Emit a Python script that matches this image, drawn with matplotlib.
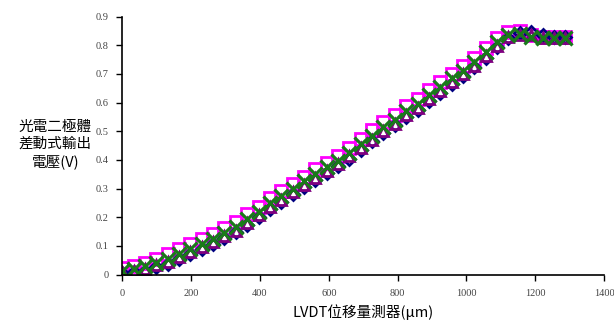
import numpy as np
import matplotlib
matplotlib.use('Agg')
import matplotlib.pyplot as plt

plt.rcParams['font.family'] = 'serif'
plt.rcParams['font.serif'] = ['Liberation Serif', 'DejaVu Serif']

# displacement (um) and output voltage (V)
x = [0, 33, 66, 99, 132, 165, 198, 231, 264, 297, 330, 363, 396, 429, 462,
     495, 528, 561, 594, 627, 660, 693, 726, 759, 792, 825, 858, 891, 924,
     957, 990, 1023, 1056, 1089, 1122, 1155, 1188, 1221, 1254, 1287]

y_x = [0.012, 0.020, 0.030, 0.042, 0.055, 0.072, 0.090, 0.107, 0.124, 0.145,
       0.165, 0.195, 0.220, 0.250, 0.275, 0.300, 0.325, 0.350, 0.375, 0.398,
       0.425, 0.455, 0.485, 0.515, 0.540, 0.570, 0.595, 0.625, 0.655, 0.685,
       0.710, 0.740, 0.775, 0.810, 0.835, 0.840, 0.830, 0.825, 0.826, 0.826]

y_sq = [0.022, 0.030, 0.042, 0.055, 0.071, 0.088, 0.106, 0.123, 0.141, 0.163,
        0.183, 0.211, 0.237, 0.266, 0.291, 0.316, 0.341, 0.367, 0.391, 0.415,
        0.443, 0.473, 0.503, 0.533, 0.558, 0.587, 0.613, 0.643, 0.673, 0.701,
        0.727, 0.757, 0.791, 0.824, 0.845, 0.848, 0.836, 0.830, 0.830, 0.830]

y_di = [0.005, 0.008, 0.014, 0.025, 0.038, 0.054, 0.072, 0.089, 0.107, 0.127,
        0.147, 0.174, 0.200, 0.230, 0.255, 0.281, 0.306, 0.331, 0.355, 0.379,
        0.405, 0.435, 0.465, 0.495, 0.521, 0.550, 0.575, 0.605, 0.635, 0.665,
        0.693, 0.723, 0.757, 0.793, 0.826, 0.842, 0.846, 0.836, 0.830, 0.828]

y_tr = [0.008, 0.013, 0.020, 0.032, 0.045, 0.061, 0.079, 0.096, 0.113, 0.133,
        0.153, 0.181, 0.207, 0.236, 0.262, 0.287, 0.312, 0.337, 0.361, 0.385,
        0.412, 0.441, 0.471, 0.501, 0.527, 0.556, 0.581, 0.611, 0.641, 0.671,
        0.698, 0.728, 0.763, 0.799, 0.828, 0.837, 0.834, 0.826, 0.826, 0.826]

xticks = [0, 200, 400, 600, 800, 1000, 1200, 1400]
yticks = [0, 0.1, 0.2, 0.3, 0.4, 0.5, 0.6, 0.7, 0.8, 0.9]
ytick_labels = ['0', '0.1', '0.2', '0.3', '0.4', '0.5', '0.6', '0.7', '0.8', '0.9']

cjk = ['Noto Sans CJK TC', 'DejaVu Sans']

fig = plt.figure(figsize=(6.14, 3.25), dpi=100)
ax = fig.add_axes([0.199, 0.155, 0.785, 0.794])

ax.plot(x, y_sq, ls='none', marker='s', ms=8, mfc='none', mec='#ff00ff', mew=2)
ax.plot(x, y_di, ls='none', marker='D', ms=6.5, mfc='none', mec='#000080', mew=2)
ax.plot(x, y_tr, ls='none', marker='^', ms=7.5, mfc='none', mec='#800080', mew=2)
ax.plot(x, y_x, ls='none', marker='x', ms=9.5, mec='#1a7a1a', mew=2.3)

ax.set_xlim(0, 1400)
ax.set_ylim(0, 0.9)
ax.set_xticks(xticks)
ax.set_xticklabels([str(t) for t in xticks])
ax.set_yticks(yticks)
ax.set_yticklabels(ytick_labels)
ax.tick_params(direction='out', length=4, width=1, pad=6, labelsize=7.5,
               labelcolor='#444444')

for s in ['top', 'right']:
    ax.spines[s].set_visible(False)
for s in ['left', 'bottom']:
    ax.spines[s].set_linewidth(1.2)

ax.set_xlabel('LVDT位移量測器(μm)', family=cjk, fontsize=10.5, labelpad=5)
fig.text(0.09, 0.555, '光電二極體\n差動式輸出\n電壓(V)', family=cjk, fontsize=10.5,
         ha='center', va='center', linespacing=1.3)

fig.savefig('out.png', dpi=100)
